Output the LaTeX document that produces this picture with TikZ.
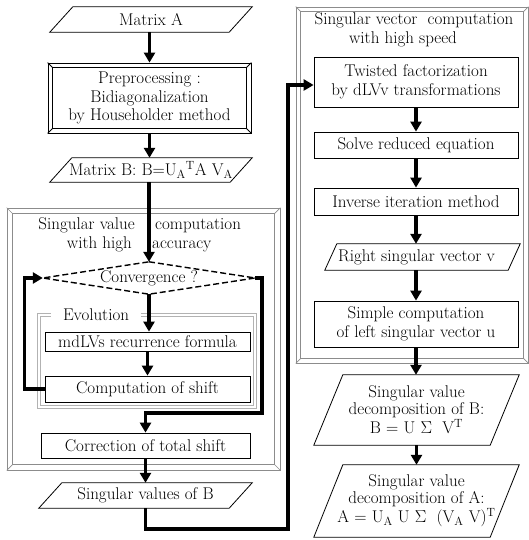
\documentclass[tikz,border=0pt]{standalone}
\usepackage{fontspec}
\usetikzlibrary{arrows.meta,calc}
\newcommand\drawpara[2]{\draw[bline] ([xshift=#2]#1.north west) -- (#1.north east) -- ([xshift=-#2]#1.south east) -- (#1.south west) -- cycle;}
\newcommand\drawbevel[3]{%
 \draw[#3] ([shift={(#2,#2)}]#1.north west) rectangle ([shift={(-#2,-#2)}]#1.south east);
 \draw[#3] (#1.north west) -- ([shift={(#2,#2)}]#1.north west)
   (#1.north east) -- ([shift={(-#2,#2)}]#1.north east)
   (#1.south west) -- ([shift={(#2,-#2)}]#1.south west)
   (#1.south east) -- ([shift={(-#2,-#2)}]#1.south east);}
\begin{document}
\begin{tikzpicture}[x=1pt,y=-1pt,
  every node/.style={font=\fontsize{17}{18.5}\selectfont, inner sep=0pt, align=center},
  bline/.style={draw=black, line width=0.8pt},
  rbox/.style={bline, fill=white},
  gframe/.style={draw=black!45, line width=0.7pt},
  evframe/.style={draw=black!30, line width=0.7pt},
  conn/.style={line width=3.6pt, line join=miter},
  arr/.style={conn, -{Triangle[length=10pt,width=11pt]}}]
\useasboundingbox (0,0) rectangle (529,540);
% frames
\node[gframe, minimum width=273pt, minimum height=262pt] (lf) at (143.5,339) {};
\drawbevel{lf}{6}{gframe}
\node[gframe, minimum width=232pt, minimum height=356pt] (rf) at (412,185) {};
\drawbevel{rf}{5}{gframe}
% left column
\node[minimum width=202pt, minimum height=25pt] (ma) at (151,19.5) {Matrix A};
\drawpara{ma}{23pt}
\node[bline, minimum width=203pt, minimum height=70pt] (pre) at (149.5,98) {Preprocessing :\\Bidiagonalization\\by Householder method};
\drawbevel{pre}{5}{bline}
\node[minimum width=202pt, minimum height=24pt] (mb) at (151,170) {Matrix B: B=U$_{\mathrm{A}}{}^{\mathrm{T}}$A V$_{\mathrm{A}}$};
\drawpara{mb}{22pt}
\node[anchor=base east] (t1a) at (135,229) {Singular value};
\node[anchor=base west] (t1b) at (155,229) {computation};
\node[anchor=base east] (t2a) at (132,248) {with high};
\node[anchor=base west] (t2b) at (152,248) {accuracy};
\node[minimum width=212pt, minimum height=32pt] (cv) at (149,278) {Convergence ?};
\draw[line width=1.4pt, dash pattern=on 6pt off 3pt] (cv.north) -- (cv.east) -- (cv.south) -- (cv.west) -- cycle;
\node[minimum width=218pt, minimum height=94pt] (ev) at (147,361) {};
\draw[evframe] (ev.north west) rectangle (ev.south east);
\draw[evframe] ([shift={(2.5,2.5)}]ev.north west) rectangle ([shift={(-2.5,-2.5)}]ev.south east);
\node[fill=white, minimum width=90pt, minimum height=12pt] (evl) at (96,315) {Evolution};
\node[rbox, minimum width=205pt, minimum height=19pt] (mdl) at (147.5,341.5) {mdLVs recurrence formula};
\node[rbox, minimum width=205pt, minimum height=26pt] (sh) at (147.5,389) {Computation of shift};
\node[rbox, minimum width=209pt, minimum height=25pt] (cr) at (145.5,445.5) {Correction of total shift};
\node[minimum width=213pt, minimum height=25pt] (svb) at (145.5,495.5) {Singular values of B};
\drawpara{svb}{23pt}
% right column
\node (rt1) at (414,20) {Singular vector\ \ computation};
\node (rt2) at (403,39) {with high speed};
\node[rbox, minimum width=204pt, minimum height=50pt] (tw) at (416,82) {Twisted factorization\\by dLVv transformations};
\node[rbox, minimum width=204pt, minimum height=26pt] (sv) at (416,145) {Solve reduced equation};
\node[rbox, minimum width=204pt, minimum height=27pt] (inv) at (416,201.5) {Inverse iteration method};
\node[minimum width=195pt, minimum height=26pt] (rv) at (422.5,257) {Right singular vector v\hspace{12pt}};
\drawpara{rv}{12pt}
\node[rbox, minimum width=204pt, minimum height=46pt] (sc) at (416,324) {Simple computation\\of left singular vector u};
\node[minimum width=205pt, minimum height=70pt, font=\fontsize{17}{17}\selectfont] (svdb) at (416.5,410) {Singular value\\decomposition of B:\\B = U $\Sigma$\ \ V$^{\mathrm{T}}$\hspace{6pt}};
\drawpara{svdb}{29pt}
\node[minimum width=205pt, minimum height=72pt, font=\fontsize{17}{17}\selectfont] (svda) at (416.5,501) {Singular value\\decomposition of A:\\A = U$_{\mathrm{A}}$ U $\Sigma$\ \ (V$_{\mathrm{A}}$ V)$^{\mathrm{T}}$};
\drawpara{svda}{29pt}
% connectors
\draw[arr] (pre.north |- ma.south) -- (pre.north);
\draw[arr] (pre.south) -- (pre.south |- mb.north);
\draw[arr] (mb.south -| cv.north) -- (cv.north);
\draw[arr] (cv.south) -- (cv.south |- mdl.north);
\draw[arr] (mdl.south) -- (sh.north);
\draw[arr] (sh.west) -- ++(-20,0) |- (cv.west);
\draw[arr] (cv.east) -- ++(7,0) -- ++(0,135) -| (cr.north);
\draw[arr] (cr.south) -- (cr.south |- svb.north);
\coordinate (jn) at (288,85);
\draw[arr] (svb.south) -- ++(0,21) -| (jn) -- ([yshift=-3pt]tw.west);
\draw[arr] (tw.south) -- (sv.north);
\draw[arr] (sv.south) -- (inv.north);
\draw[arr] (inv.south) -- (inv.south |- rv.north);
\draw[arr] (sc.north |- rv.south) -- (sc.north);
\draw[arr] (sc.south) -- (sc.south |- svdb.north);
\draw[arr] (svdb.south) -- (svda.north);
\end{tikzpicture}
\end{document}
